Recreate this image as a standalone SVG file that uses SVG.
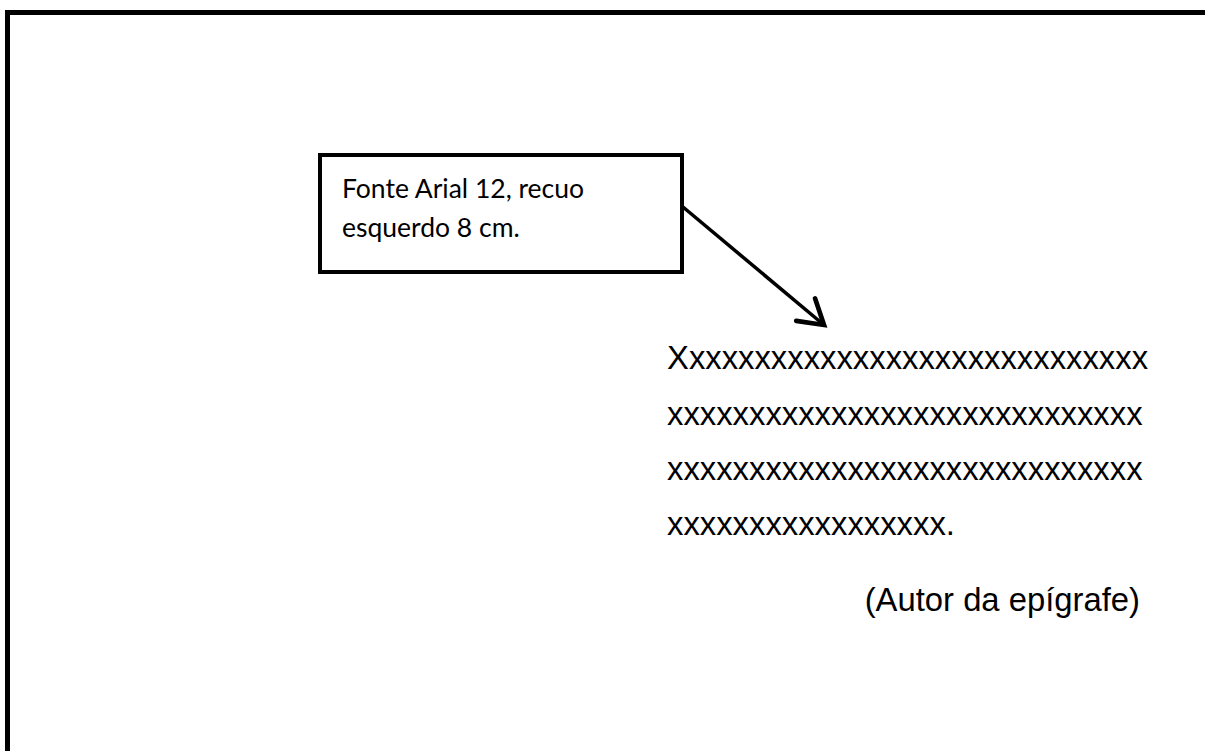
<svg xmlns="http://www.w3.org/2000/svg" width="1205" height="751" viewBox="0 0 1205 751">
  <style>
    .frame { fill: none; stroke: #000; stroke-width: 5; }
    .box { fill: #fff; stroke: #000; stroke-width: 4; }
    .note { font-family: Lato, "Open Sans", sans-serif; font-size: 26.5px; fill: #000; }
    .body { font-family: "Liberation Sans", Arial, sans-serif; font-size: 32.8px; fill: #000; }
    .conn { fill: none; stroke: #000; stroke-width: 3.5; }
  </style>
  <defs>
    <marker id="openArrow" markerUnits="userSpaceOnUse" markerWidth="40" markerHeight="40" viewBox="-22 -15 26 30" refX="0" refY="0" orient="auto">
      <path d="M-18,-11 L0,0 L-18,11" fill="none" stroke="#000" stroke-width="3.5" stroke-linecap="round" stroke-linejoin="miter"/>
    </marker>
  </defs>
  <rect x="0" y="0" width="1205" height="751" fill="#fff"/>
  <path class="frame" d="M7.5,751 V12.5 H1205"/>
  <g id="note">
    <rect class="box" x="320" y="155" width="362" height="117"/>
    <text class="note" x="342" y="198">Fonte Arial 12, recuo</text>
    <text class="note" x="342" y="237">esquerdo 8 cm.</text>
  </g>
  <g id="epigraph">
    <text class="body" x="667" y="369">Xxxxxxxxxxxxxxxxxxxxxxxxxxxxx</text>
    <text class="body" x="667" y="425">xxxxxxxxxxxxxxxxxxxxxxxxxxxxx</text>
    <text class="body" x="667" y="480">xxxxxxxxxxxxxxxxxxxxxxxxxxxxx</text>
    <text class="body" x="667" y="535">xxxxxxxxxxxxxxxxx.</text>
  </g>
  <g id="author">
    <text class="body" x="1140" y="611" text-anchor="end">(Autor da epígrafe)</text>
  </g>
  <g id="connectors">
    <line class="conn" x1="683" y1="207" x2="824" y2="325" marker-end="url(#openArrow)"/>
  </g>
</svg>
